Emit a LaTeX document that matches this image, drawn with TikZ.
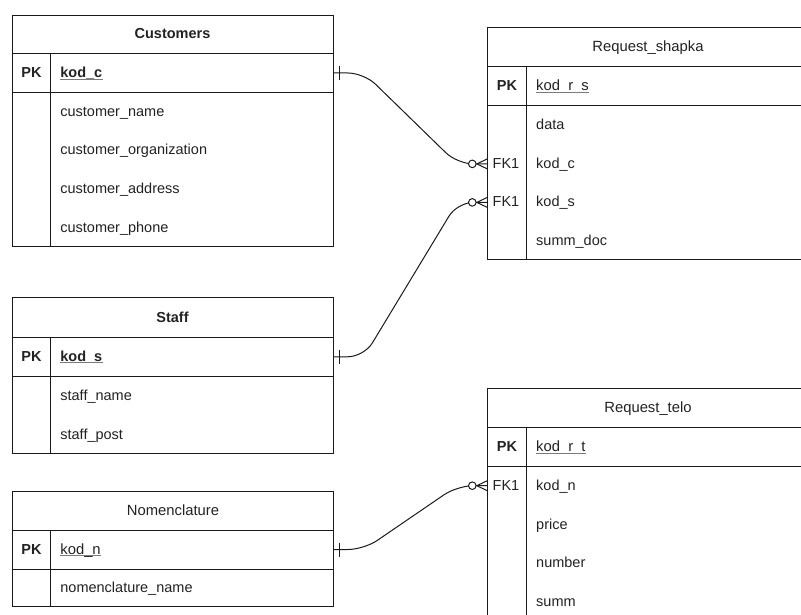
\documentclass[tikz,border=0pt]{standalone}
\usepackage{fontspec}
\setmainfont{Liberation Sans}
\definecolor{ln}{HTML}{1A1A1A}
\definecolor{txt}{HTML}{222222}
\definecolor{ulc}{HTML}{7A7A7A}
\begin{document}
\begin{tikzpicture}[x=1pt,y=-1pt,
  every node/.style={font=\fontsize{14.5}{17}\selectfont, text=txt},
  tbl/.style={draw=ln, line width=1pt, anchor=north west, inner sep=0pt},
  pkrow/.style={draw=ln, line width=1pt, anchor=north west, inner sep=0pt},
  slot/.style={anchor=north west, inner sep=0pt, minimum width=320pt, minimum height=39pt},
  title/.style={font=\fontsize{14.5}{17}\selectfont\bfseries, anchor=base, inner sep=0pt},
  ltitle/.style={font=\fontsize{14.8}{17}\selectfont, anchor=base, inner sep=0pt},
  keyc/.style={font=\fontsize{14.5}{17}\selectfont\bfseries, anchor=base, inner sep=0pt},
  fkc/.style={anchor=base, inner sep=0pt},
  fld/.style={anchor=base west, inner sep=0pt},
  pkfld/.style={font=\fontsize{14.5}{17}\selectfont\bfseries, anchor=base west, inner sep=0pt},
  lpkfld/.style={font=\fontsize{14.8}{17}\selectfont, anchor=base west, inner sep=0pt},
  divl/.style={draw=ln, line width=1pt},
  ul/.style={draw=ulc, line width=0.9pt},
  rel/.style={draw=ln, line width=1pt, rounded corners=16pt},
  rl/.style={draw=ln, line width=1pt},
  onemark/.pic={\draw[rl] (5.5,-7) -- (5.5,7);},
  zmany/.pic={\draw[rl, fill=white] (-15,0) circle (3.8pt);
              \draw[rl] (-10.5,0) -- (0,-5) (-10.5,0) -- (0,5);}
]
\useasboundingbox (0,0) rectangle (801,615);
\clip (0,0) rectangle (801,615);

% ---------------- Customers
\node[tbl, minimum width=321pt, minimum height=231.4pt] (cust) at (12,15) {};
\node[pkrow, minimum width=321pt, minimum height=39pt] (cust-pk) at (12,53) {};
\draw[divl] (50.7,53) -- (50.7,246.4);
\node[title] (cust-t) at (172.5,39) {Customers};
\node[keyc] (cust-pkl) at (31.4,77.5) {PK};
\node[pkfld] (cust-k) at (60.2,77.5) {kod\_c};
\draw[ul] ([yshift=-1.6pt]cust-k.base west) -- ([yshift=-1.6pt]cust-k.base east);
\node[fld] (cust-1) at (60.2,116.3) {customer\_name};
\node[fld] (cust-2) at (60.2,155) {customer\_organization};
\node[fld] (cust-3) at (60.2,193.5) {customer\_address};
\node[fld] (cust-4) at (60.2,232) {customer\_phone};

% ---------------- Request_shapka
\node[tbl, minimum width=320pt, minimum height=231.7pt] (rs) at (487.3,27.3) {};
\node[pkrow, minimum width=320pt, minimum height=39pt] (rs-pk) at (487.3,66) {};
\draw[divl] (526.7,66) -- (526.7,259);
\node[ltitle] (rs-t) at (648,51.7) {Request\_shapka};
\node[keyc] (rs-pkl) at (507,90.5) {PK};
\node[lpkfld] (rs-k) at (536,90.5) {kod\_r\_s};
\draw[ul] ([yshift=-1.6pt]rs-k.base west) -- ([yshift=-1.6pt]rs-k.base east);
\node[fld] (rs-1) at (536,129.5) {data};
\node[slot] (rs-c) at (487.3,144.2) {};
\node[fkc] (rs-fk1) at (506,168.5) {FK1};
\node[fld] (rs-2) at (536,168.5) {kod\_c};
\node[slot] (rs-s) at (487.3,182.7) {};
\node[fkc] (rs-fk2) at (506,207) {FK1};
\node[fld] (rs-3) at (536,207) {kod\_s};
\node[fld] (rs-4) at (536,245.5) {summ\_doc};

% ---------------- Staff
\node[tbl, minimum width=321pt, minimum height=156pt] (staff) at (12,297) {};
\node[pkrow, minimum width=321pt, minimum height=39.5pt] (staff-pk) at (12,336.5) {};
\draw[divl] (50.7,336.5) -- (50.7,453);
\node[title] (staff-t) at (172.5,322) {Staff};
\node[keyc] (staff-pkl) at (31.4,361) {PK};
\node[pkfld] (staff-k) at (60.2,361) {kod\_s};
\draw[ul] ([yshift=-1.6pt]staff-k.base west) -- ([yshift=-1.6pt]staff-k.base east);
\node[fld] (staff-1) at (60.2,400.5) {staff\_name};
\node[fld] (staff-2) at (60.2,439) {staff\_post};

% ---------------- Nomenclature
\node[tbl, minimum width=321pt, minimum height=115pt] (nom) at (12,491) {};
\node[pkrow, minimum width=321pt, minimum height=39pt] (nom-pk) at (12,529.5) {};
\draw[divl] (50.7,529.5) -- (50.7,606);
\node[ltitle] (nom-t) at (173,515) {Nomenclature};
\node[keyc] (nom-pkl) at (31.4,554) {PK};
\node[lpkfld] (nom-k) at (60.2,554) {kod\_n};
\draw[ul] ([yshift=-1.6pt]nom-k.base west) -- ([yshift=-1.6pt]nom-k.base east);
\node[fld] (nom-1) at (60.2,592.5) {nomenclature\_name};

% ---------------- Request_telo
\node[tbl, minimum width=320pt, minimum height=250pt] (rt) at (487.3,388.3) {};
\node[pkrow, minimum width=320pt, minimum height=39pt] (rt-pk) at (487.3,427) {};
\draw[divl] (526.7,427) -- (526.7,640);
\node[ltitle] (rt-t) at (648,412.5) {Request\_telo};
\node[keyc] (rt-pkl) at (507,451.5) {PK};
\node[lpkfld] (rt-k) at (536,451.5) {kod\_r\_t};
\draw[ul] ([yshift=-1.6pt]rt-k.base west) -- ([yshift=-1.6pt]rt-k.base east);
\node[slot] (rt-n) at (487.3,466) {};
\node[fkc] (rt-fk1) at (506,490.5) {FK1};
\node[fld] (rt-1) at (536,490.5) {kod\_n};
\node[fld] (rt-2) at (536,529) {price};
\node[fld] (rt-3) at (536,567.5) {number};
\node[fld] (rt-4) at (536,606) {summ};

% ---------------- Relations
\draw[rel] (cust-pk.east) -- ++(30,0) -- ([xshift=-30pt]rs-c.west) -- (rs-c.west);
\draw[rel] (staff-pk.east) -- ++(30,0) -- ([xshift=-30pt]rs-s.west) -- (rs-s.west);
\draw[rel] (nom-pk.east) -- ++(30,0) -- ([xshift=-30pt]rt-n.west) -- (rt-n.west);
\pic at (cust-pk.east) {onemark};
\pic at (staff-pk.east) {onemark};
\pic at (nom-pk.east) {onemark};
\pic at (rs-c.west) {zmany};
\pic at (rs-s.west) {zmany};
\pic at (rt-n.west) {zmany};
\end{tikzpicture}
\end{document}
